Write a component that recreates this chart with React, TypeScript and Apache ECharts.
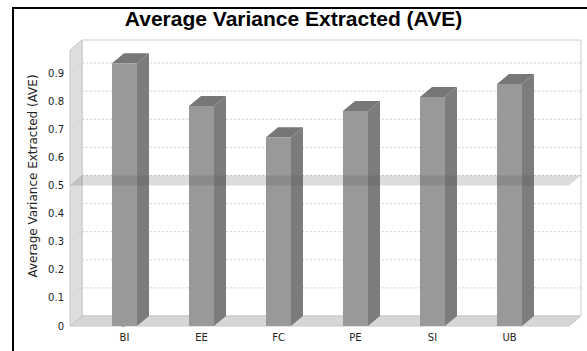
import React, { useEffect, useRef } from "react";
import * as echarts from "echarts";

const categories = ["BI", "EE", "FC", "PE", "SI", "UB"];
const aveValues = [0.935, 0.783, 0.672, 0.765, 0.815, 0.861];
const yTicks = [0, 0.1, 0.2, 0.3, 0.4, 0.5, 0.6, 0.7, 0.8, 0.9];
const yMax = 0.982;
const thresholdValue = 0.5;
const titleText = "Average Variance Extracted (AVE)";
const yAxisName = "Average Variance Extracted (AVE)";

const DX = 12;
const DY = 10;
const BAR_W = 25;
const SMALL_FONT = "'DejaVu Sans', sans-serif";

export default function App() {
  const ref = useRef<HTMLDivElement>(null);

  useEffect(() => {
    if (!ref.current) return;
    const chart = echarts.init(ref.current, undefined, { renderer: "svg" });

    const wallsRender = (params: any) => {
      const cs = params.coordSys;
      const x0 = cs.x, x1 = cs.x + cs.width, yt = cs.y, yb = cs.y + cs.height;
      return {
        type: "group",
        children: [
          {
            type: "rect",
            shape: { x: x0 + DX, y: yt - DY, width: cs.width, height: cs.height },
            style: { fill: "#ffffff", stroke: "#cccccc", lineWidth: 1 },
          },
          {
            type: "polygon",
            shape: { points: [[x0, yt], [x0 + DX, yt - DY], [x0 + DX, yb - DY], [x0, yb]] },
            style: { fill: "#dedede", stroke: "#c8c8c8", lineWidth: 1 },
          },
          {
            type: "polygon",
            shape: { points: [[x0, yb], [x0 + DX, yb - DY], [x1 + DX, yb - DY], [x1, yb]] },
            style: { fill: "#d6d6d6", stroke: "#c8c8c8", lineWidth: 1 },
          },
        ],
      };
    };

    const gridRender = (params: any, api: any) => {
      const cs = params.coordSys;
      const x0 = cs.x, x1 = cs.x + cs.width;
      const y = api.coord([0, api.value(1)])[1];
      return {
        type: "polyline",
        shape: { points: [[x0, y], [x0 + DX, y - DY], [x1 + DX, y - DY]] },
        style: { stroke: "#cccccc", lineWidth: 1, lineDash: [2, 2], fill: null },
      };
    };

    const barRender = (params: any, api: any) => {
      const i = api.value(0);
      const v = api.value(1);
      const top = api.coord([i, v]);
      const base = api.coord([i, 0]);
      const xl = top[0] - BAR_W / 2;
      const xr = top[0] + BAR_W / 2;
      const yt = top[1];
      const yb = base[1];
      return {
        type: "group",
        children: [
          {
            type: "polygon",
            shape: { points: [[xr, yt], [xr + DX, yt - DY], [xr + DX, yb - DY], [xr, yb]] },
            style: { fill: "#7c7c7c" },
          },
          {
            type: "polygon",
            shape: { points: [[xl, yt], [xl + DX, yt - DY], [xr + DX, yt - DY], [xr, yt]] },
            style: { fill: "#777777" },
          },
          {
            type: "rect",
            shape: { x: xl, y: yt, width: BAR_W, height: yb - yt },
            style: { fill: "#999999" },
          },
        ],
      };
    };

    const bandRender = (params: any, api: any) => {
      const cs = params.coordSys;
      const x0 = cs.x, x1 = cs.x + cs.width;
      const y = api.coord([0, api.value(1)])[1];
      return {
        type: "polygon",
        shape: { points: [[x0, y], [x0 + DX, y - DY], [x1 + DX, y - DY], [x1, y]] },
        style: { fill: "rgba(80,80,80,0.2)" },
      };
    };

    chart.setOption({
      animation: false,
      backgroundColor: "#ffffff",
      title: {
        text: titleText,
        left: "center",
        top: 8,
        padding: [0, 0, 0, 13],
        textStyle: {
          fontFamily: "'Liberation Sans', Arial, sans-serif",
          fontWeight: "bold",
          fontSize: 21,
          color: "#000000",
        },
      },
      graphic: [
        {
          type: "rect",
          shape: { x: 13, y: 8, width: 700, height: 500 },
          style: { fill: null, stroke: "#000000", lineWidth: 2 },
          silent: true,
        },
        {
          type: "text",
          x: 33,
          y: 176,
          rotation: Math.PI / 2,
          style: {
            text: yAxisName,
            fontFamily: SMALL_FONT,
            fontSize: 12,
            fill: "#222222",
            align: "center",
            verticalAlign: "middle",
          },
          silent: true,
        },
      ],
      grid: { left: 70, top: 50, width: 499, height: 276 },
      xAxis: {
        type: "value",
        min: -0.708,
        max: 5.773,
        axisLine: { show: false },
        axisTick: { show: false },
        splitLine: { show: false },
        axisLabel: {
          customValues: [0, 1, 2, 3, 4, 5],
          formatter: (v: number) => categories[Math.round(v)] ?? "",
          fontFamily: SMALL_FONT,
          fontSize: 10,
          color: "#222222",
          margin: 6,
        },
      },
      yAxis: {
        type: "value",
        min: 0,
        max: yMax,
        axisLine: { show: true, lineStyle: { color: "#aaaaaa", width: 1 } },
        axisTick: {
          show: true,
          length: 3,
          customValues: yTicks,
          lineStyle: { color: "#808080" },
        },
        splitLine: { show: false },
        axisLabel: {
          customValues: yTicks,
          formatter: (v: number) => String(Math.round(v * 10) / 10),
          fontFamily: SMALL_FONT,
          fontSize: 10,
          color: "#222222",
          margin: 6,
        },
      },
      series: [
        {
          type: "custom",
          name: "walls",
          z: 1,
          silent: true,
          data: [[0, 0]],
          renderItem: wallsRender,
        },
        {
          type: "custom",
          name: "gridlines",
          z: 2,
          silent: true,
          data: yTicks.filter((t) => t > 0).map((t) => [0, t]),
          renderItem: gridRender,
        },
        {
          type: "custom",
          name: "AVE",
          z: 3,
          data: aveValues.map((v, i) => [i, v]),
          renderItem: barRender,
        },
        {
          type: "custom",
          name: "threshold",
          z: 4,
          silent: true,
          data: [[0, thresholdValue]],
          renderItem: bandRender,
        },
      ],
    });

    return () => chart.dispose();
  }, []);

  return (
    <div
      ref={ref}
      style={{ position: "fixed", left: 0, top: 0, width: 587, height: 351, background: "#fff" }}
    />
  );
}
